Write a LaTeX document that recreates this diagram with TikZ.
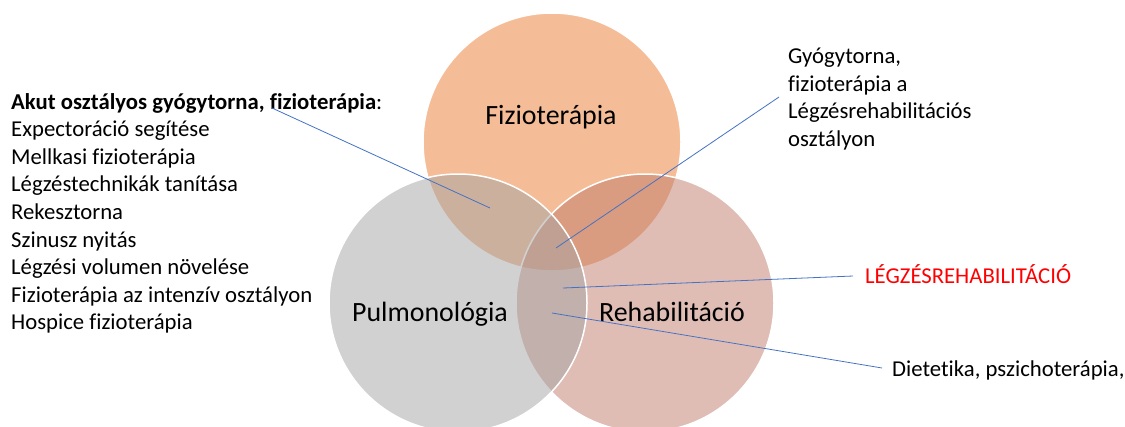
\documentclass[tikz,border=0pt]{standalone}
\usepackage{fontspec}
\setmainfont{Carlito}[Ligatures={NoCommon}]
\definecolor{orangeC}{HTML}{ED7D31}
\definecolor{pinkC}{HTML}{C17D6D}
\definecolor{grayC}{HTML}{A5A5A5}
\definecolor{lineC}{HTML}{4472C4}
\definecolor{redC}{HTML}{FF0000}
\begin{document}
\begin{tikzpicture}[x=1bp,y=-1bp,
  venn/.style={circle, inner sep=0pt, minimum size=258bp, fill opacity=0.5, draw opacity=1, draw=white, line width=1.5bp},
  biglabel/.style={font=\fontsize{28}{33}\selectfont, anchor=base, inner sep=0pt},
  listline/.style={font=\fontsize{22.8}{27}\selectfont, anchor=base west, inner sep=0pt},
  sidetext/.style={font=\fontsize{22.8}{27}\selectfont, anchor=base west, inner sep=0pt},
  conn/.style={draw=lineC, line width=0.8bp}]
\useasboundingbox (0,0) rectangle (1125,426);
\fill[white] (0,0) rectangle (1125,426);
% circles
\node[venn, fill=orangeC] (fiz) at (552,142) {};
\node[venn, fill=pinkC] (reh) at (645,303) {};
\node[venn, fill=grayC] (pul) at (458,303) {};
% circle labels
\node[biglabel] (fizl) at (551,124) {Fizioterápia};
\node[biglabel] (pull) at (430,321) {Pulmonológia};
\node[biglabel] (rehl) at (672,321) {Rehabilitáció};
% left list
\node[listline] (l0) at (11,109) {\textbf{Akut osztályos gyógytorna, fizioterápia}:};
\foreach \t [count=\i] in {Expectoráció segítése, Mellkasi fizioterápia, Légzéstechnikák tanítása, Rekesztorna, Szinusz nyitás, Légzési volumen növelése, Fizioterápia az intenzív osztályon, Hospice fizioterápia}
  \node[listline] (l\i) at (11,109+27.6*\i) {\t};
% right texts
\node[sidetext] (r1) at (788,63) {Gyógytorna,};
\node[sidetext] (r2) at (788,91) {fizioterápia a};
\node[sidetext] (r3) at (788,118) {Légzésrehabilitációs};
\node[sidetext] (r4) at (788,146) {osztályon};
\node[sidetext, text=redC] (lr) at (865,283) {LÉGZÉSREHABILITÁCIÓ};
\node[sidetext] (dp) at (892,376) {Dietetika, pszichoterápia,};
% connector points
\coordinate (a1) at (272,108);
\coordinate (a2) at (490,208);
\coordinate (b1) at (779,97);
\coordinate (b2) at (556,248);
\coordinate (c1) at (853,276);
\coordinate (c2) at (563,288);
\coordinate (d1) at (882,368);
\coordinate (d2) at (552,313);
\draw[conn] (a1) -- (a2);
\draw[conn] (b1) -- (b2);
\draw[conn] (c1) -- (c2);
\draw[conn] (d1) -- (d2);
\end{tikzpicture}
\end{document}
